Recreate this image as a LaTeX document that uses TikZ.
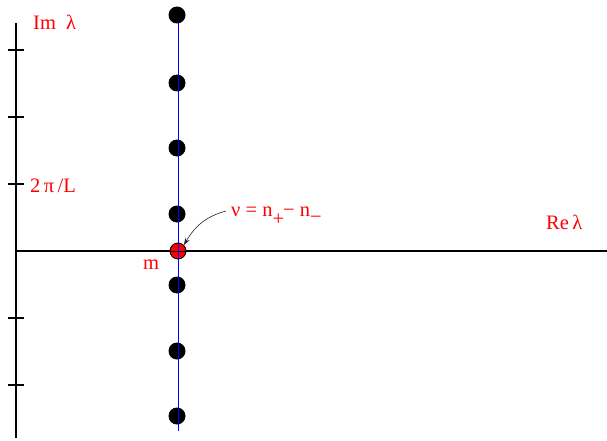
\documentclass[tikz,border=0pt]{standalone}
\usepackage{fontspec}
\setmainfont{Liberation Serif}
\usetikzlibrary{arrows.meta}
\begin{document}
\begin{tikzpicture}[x=1pt,y=1pt,
  axis/.style={line width=2.8pt,black},
  tick/.style={line width=1.2pt,black},
  lbl/.style={text=red,font=\fontsize{20.5}{24}\selectfont,inner sep=0pt},
  pole/.style={circle,fill=black,minimum size=17pt,inner sep=0pt},
  zeropole/.style={circle,fill=red,draw=black,line width=0.9pt,minimum size=16pt,inner sep=0pt}]
\useasboundingbox (0,0) rectangle (607,440);
% axes
\coordinate (vtop) at (16,417);
\coordinate (vbot) at (16,2);
\coordinate (hleft) at (16,189);
\coordinate (hright) at (607,189);
\draw[axis] (vbot) -- (vtop);
\draw[axis] (hleft) -- (hright);
\foreach \y in {390,323,256,122,55}{
  \coordinate (tl) at (8,\y); \coordinate (tr) at (24,\y);
  \draw[tick] (tl) -- (tr);
}
% blue line
\coordinate (btop) at (178,425);
\coordinate (bbot) at (178,9);
\draw[blue,line width=0.7pt] (bbot) -- (btop);
% poles
\foreach \y/\n in {425/p1,357/p2,292/p3,226/p4,155/p5,89/p6,24/p7}{
  \node[pole] (\n) at (177,\y) {};
}
\draw[blue,line width=0.7pt] (178,417) -- (178,9);
\node[zeropole] (z) at (178,189) {};
\draw[black,line width=0.6pt] (170,189) -- (186,189);
\draw[blue,line width=0.6pt] (178,181) -- (178,197);
% labels
\node[lbl,anchor=west] (im) at (33,418) {Im\ \ λ};
\node[lbl,anchor=west] (tpl) at (30,254) {2\,π\,/L};
\node[lbl] (m) at (151,175) {m};
\node[lbl,anchor=west] (re) at (546,218) {Re\,λ};
\node[lbl,anchor=base west] (nu) at (231,224) {ν = n\raisebox{-9pt}{+}\kern-1pt− n\raisebox{-7pt}{−}};
% arrow
\coordinate (as) at (226,229);
\draw[-{Stealth[length=7pt,width=5pt]},line width=0.6pt,black!85] (as) to[out=195,in=60] (z.north east);
\end{tikzpicture}
\end{document}
